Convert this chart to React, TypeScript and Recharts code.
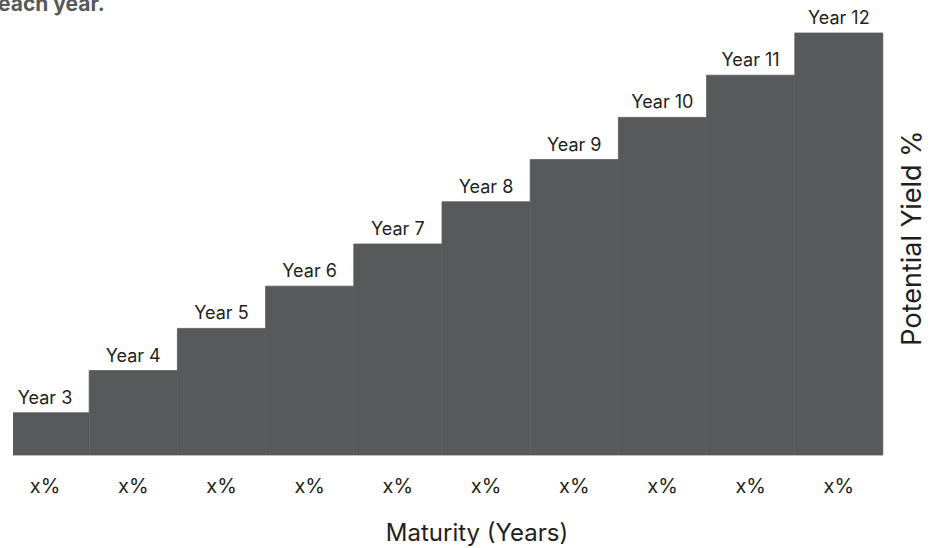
import React from "react";
import { BarChart, Bar, XAxis, YAxis, LabelList } from "recharts";

const categories = ["Year 3", "Year 4", "Year 5", "Year 6", "Year 7", "Year 8", "Year 9", "Year 10", "Year 11", "Year 12"];
const yieldValues = [1, 2, 3, 4, 5, 6, 7, 8, 9, 10];
const tickLabels = ["x%", "x%", "x%", "x%", "x%", "x%", "x%", "x%", "x%", "x%"];

const data = categories.map((c, i) => ({ year: c, value: yieldValues[i], tick: tickLabels[i] }));

const FONT = "Inter, Roboto, 'Liberation Sans', Arial, sans-serif";
const TEXT = "#231f20";
const BAR = "#58595b";

const XTick = (props: any) => {
  const { x, y, index } = props;
  return (
    <text x={x} y={y + 31} textAnchor="middle" dominantBaseline="central" fontSize={20} fill={TEXT} fontFamily={FONT}>
      {tickLabels[index]}
    </text>
  );
};

const YTitle = (props: any) => {
  const vb = props.viewBox || {};
  const cx = vb.x + vb.width / 2;
  const cy = vb.y + vb.height / 2 - 6;
  return (
    <text
      x={cx}
      y={cy}
      transform={`rotate(-90, ${cx}, ${cy})`}
      textAnchor="middle"
      dominantBaseline="central"
      fontSize={27}
      fill={TEXT}
      fontFamily={FONT}
    >
      Potential Yield %
    </text>
  );
};

export default function App() {
  return (
    <div style={{ position: "absolute", left: 0, top: 0, width: 939, height: 548, background: "#fff", overflow: "hidden" }}>
      <div
        style={{
          position: "absolute",
          left: -2,
          top: -8,
          fontFamily: FONT,
          fontWeight: 700,
          fontSize: 21,
          lineHeight: "24px",
          color: BAR,
          whiteSpace: "nowrap",
        }}
      >
        each year.
      </div>
      <div style={{ position: "absolute", left: 13, top: 0, width: 926, height: 548, overflow: "hidden" }}>
        <div style={{ position: "absolute", left: -12, top: 0 }}>
          <BarChart
            width={938}
            height={548}
            data={data}
            margin={{ top: 33, right: 0, bottom: 0, left: 0 }}
            barCategoryGap={0}
            style={{ fontFamily: FONT }}
          >
            <XAxis
              dataKey="year"
              axisLine={false}
              tickLine={false}
              tickSize={0}
              tickMargin={0}
              height={93}
              tick={<XTick />}
              interval={0}
              label={{
                value: "Maturity (Years)",
                position: "insideBottom",
                offset: 7,
                dx: 35,
                fontSize: 24,
                fill: TEXT,
                fontFamily: FONT,
              }}
            />
            <YAxis
              orientation="right"
              domain={[0, 10]}
              width={56}
              tick={false}
              axisLine={false}
              tickLine={false}
              label={<YTitle />}
            />
            <Bar dataKey="value" fill={BAR} stroke={BAR} strokeWidth={0.8} isAnimationActive={false}>
              <LabelList dataKey="year" position="top" offset={9} fontSize={18} fill={TEXT} fontFamily={FONT} />
            </Bar>
          </BarChart>
        </div>
      </div>
    </div>
  );
}
